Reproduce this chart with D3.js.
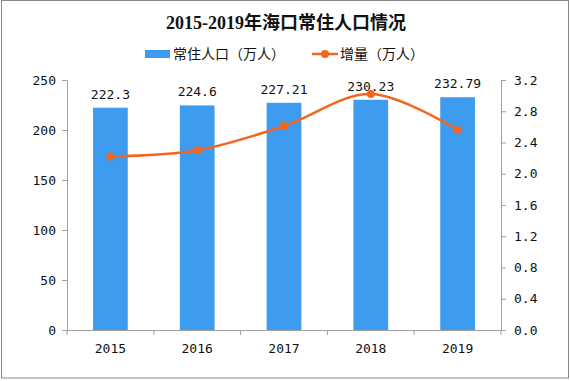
<!DOCTYPE html>
<html>
<head>
<meta charset="utf-8">
<script src="https://cdn.jsdelivr.net/npm/d3@7"></script>
<style>
  html, body { margin: 0; padding: 0; background: #fff; }
  svg { display: block; }
</style>
</head>
<body>
<script>
const years = ["2015", "2016", "2017", "2018", "2019"];
const population = [222.3, 224.6, 227.21, 230.23, 232.79];
const popLabels = ["222.3", "224.6", "227.21", "230.23", "232.79"];
const increase = [2.22, 2.30, 2.61, 3.02, 2.56];
const leftTicks = [0, 50, 100, 150, 200, 250];
const rightTicks = [0, 0.4, 0.8, 1.2, 1.6, 2.0, 2.4, 2.8, 3.2];
const titleText = "2015-2019年海口常住人口情况";
const legendBar = "常住人口（万人）";
const legendLine = "增量（万人）";

const W = 570, H = 381;
const plot = { left: 67, right: 501, top: 80, bottom: 330 };
const barColor = "#3D9BF0";
const lineColor = "#F5651D";
const axisColor = "#A0A0A0";
const numFont = "'DejaVu Sans Mono', monospace";
const cjkFont = "'Noto Sans CJK SC', sans-serif";

const svg = d3.select("body").append("svg").attr("width", W).attr("height", H);

svg.append("rect").attr("x", 1.5).attr("y", 0.5).attr("width", W - 3).attr("height", H - 3.5)
  .attr("fill", "#fff").attr("stroke", "#8a8a8a").attr("stroke-width", 1);

const x = d3.scaleBand().domain(years).range([plot.left, plot.right]).paddingInner(0.6).paddingOuter(0.3);
const xb = d3.scaleBand().domain(years).range([plot.left, plot.right]);
const yL = d3.scaleLinear().domain([0, 250]).range([plot.bottom, plot.top]);
const yR = d3.scaleLinear().domain([0, 3.2]).range([plot.bottom, plot.top]);

// Title
svg.append("text").attr("x", 286).attr("y", 29).attr("text-anchor", "middle")
  .attr("font-family", "'Liberation Serif', 'Noto Sans CJK SC', serif")
  .attr("font-weight", "bold").attr("font-size", 18).attr("fill", "#111")
  .text(titleText);

// Legend
const lg = svg.append("g");
lg.append("rect").attr("x", 145).attr("y", 50).attr("width", 25).attr("height", 8).attr("fill", barColor);
lg.append("text").attr("x", 173).attr("y", 59).attr("font-family", cjkFont).attr("font-size", 14)
  .attr("fill", "#111").text(legendBar);
lg.append("line").attr("x1", 312).attr("x2", 338).attr("y1", 54).attr("y2", 54)
  .attr("stroke", lineColor).attr("stroke-width", 2.5);
lg.append("circle").attr("cx", 325).attr("cy", 54).attr("r", 4).attr("fill", lineColor);
lg.append("text").attr("x", 340).attr("y", 59).attr("font-family", cjkFont).attr("font-size", 14)
  .attr("fill", "#111").text(legendLine);

// Bars
svg.append("g").selectAll("rect").data(years).join("rect")
  .attr("x", (d) => x(d)).attr("width", x.bandwidth())
  .attr("y", (d, i) => yL(population[i])).attr("height", (d, i) => plot.bottom - yL(population[i]))
  .attr("fill", barColor);

// Bar labels
svg.append("g").selectAll("text").data(years).join("text")
  .attr("x", (d) => x(d) + x.bandwidth() / 2).attr("y", (d, i) => yL(population[i]) - 9)
  .attr("text-anchor", "middle").attr("font-family", numFont).attr("font-size", 13).attr("fill", "#111")
  .text((d, i) => popLabels[i]);

// Axes
function styleAxis(g) {
  g.selectAll(".domain").attr("stroke", axisColor);
  g.selectAll(".tick line").attr("stroke", axisColor);
  g.selectAll(".tick text").attr("font-family", numFont).attr("font-size", 13).attr("fill", "#111");
}

const axL = svg.append("g").attr("transform", `translate(${plot.left},0)`)
  .call(d3.axisLeft(yL).tickValues(leftTicks).tickSize(5).tickSizeOuter(0).tickPadding(6));
styleAxis(axL);

const axR = svg.append("g").attr("transform", `translate(${plot.right},0)`)
  .call(d3.axisRight(yR).tickValues(rightTicks).tickSize(5).tickSizeOuter(0).tickPadding(8)
    .tickFormat(d3.format(".1f")));
styleAxis(axR);

const axB = svg.append("g").attr("transform", `translate(0,${plot.bottom})`)
  .call(d3.axisBottom(xb).tickSize(0).tickSizeOuter(0).tickPadding(14));
styleAxis(axB);
axB.select(".domain").attr("d", `M${plot.left},0.5H${plot.right}`);
// category boundary ticks
axB.append("g").selectAll("line").data(years.concat(["end"])).join("line")
  .attr("x1", (d, i) => i < years.length ? xb(d) : plot.right)
  .attr("x2", (d, i) => i < years.length ? xb(d) : plot.right)
  .attr("y1", 0).attr("y2", 5).attr("stroke", axisColor);

// Line
const line = d3.line()
  .x((d, i) => xb(years[i]) + xb.bandwidth() / 2)
  .y((d) => yR(d))
  .curve(d3.curveCatmullRom.alpha(0.5));
svg.append("path").datum(increase).attr("d", line)
  .attr("fill", "none").attr("stroke", lineColor).attr("stroke-width", 2.5);
svg.append("g").selectAll("circle").data(increase).join("circle")
  .attr("cx", (d, i) => xb(years[i]) + xb.bandwidth() / 2).attr("cy", (d) => yR(d))
  .attr("r", 4).attr("fill", lineColor);
</script>
</body>
</html>
